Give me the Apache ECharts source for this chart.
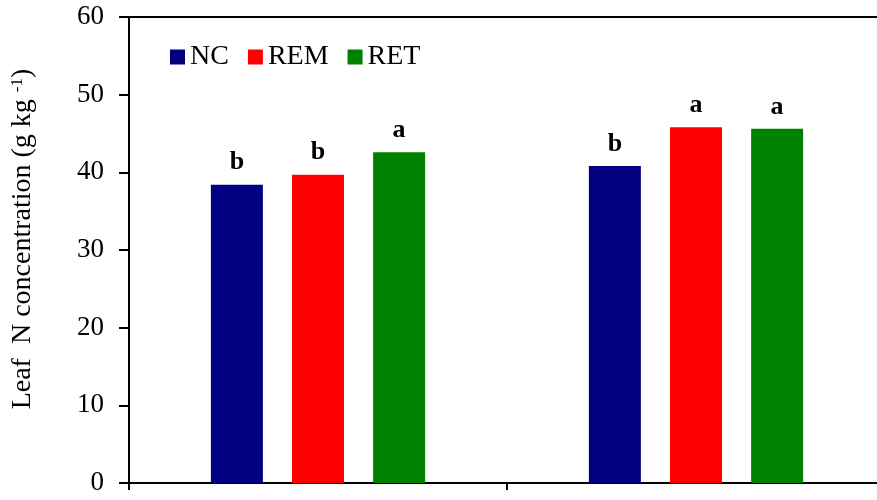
<!DOCTYPE html>
<html>
<head>
<meta charset="utf-8">
<script src="https://cdn.jsdelivr.net/npm/echarts@6/dist/echarts.min.js"></script>
<style>
html,body{margin:0;padding:0;background:#fff;overflow:hidden;width:877px;height:500px;}
#chart{width:895px;height:500px;}
</style>
</head>
<body>
<div id="chart"></div>
<script>
var categories = ['Group 1', 'Group 2'];
var seriesNames = ['NC', 'REM', 'RET'];
var ncValues = [38.4, 40.8];
var remValues = [39.7, 45.8];
var retValues = [42.6, 45.6];
var ncLetters = ['b', 'b'];
var remLetters = ['b', 'a'];
var retLetters = ['a', 'a'];
var yTicks = [0, 10, 20, 30, 40, 50, 60];

var FONT = "'Liberation Serif', 'Times New Roman', serif";
var colors = ['#000080', '#FF0000', '#008000'];

function makeSeries(name, values, letters, color) {
  return {
    name: name,
    type: 'bar',
    data: values,
    barWidth: 52,
    barGap: '56%',
    itemStyle: { color: color },
    label: {
      show: true,
      position: 'top',
      distance: 9,
      fontFamily: FONT,
      fontWeight: 'bold',
      fontSize: 26,
      color: '#000',
      formatter: function (p) { return letters[p.dataIndex]; }
    }
  };
}

var chart = echarts.init(document.getElementById('chart'), null, { renderer: 'canvas' });
chart.setOption({
  animation: false,
  backgroundColor: '#fff',
  legend: {
    left: 165,
    top: 38,
    itemWidth: 15,
    itemHeight: 15,
    itemGap: 19,
    icon: 'rect',
    textStyle: { fontFamily: FONT, fontSize: 28, color: '#000' },
    data: seriesNames
  },
  grid: {
    left: 129,
    top: 17,
    width: 756,
    height: 466,
    show: true,
    borderColor: '#000',
    borderWidth: 2,
    backgroundColor: 'transparent'
  },
  xAxis: {
    type: 'category',
    data: categories,
    axisLine: { lineStyle: { color: '#000', width: 2 } },
    axisTick: { show: true, length: 7, lineStyle: { color: '#000', width: 2 } },
    axisLabel: { show: false }
  },
  yAxis: {
    type: 'value',
    min: yTicks[0],
    max: yTicks[yTicks.length - 1],
    interval: 10,
    name: '{n|Leaf  N concentration (g kg }{s|-1}{n|)}',
    nameLocation: 'middle',
    nameGap: 92,
    nameTextStyle: {
      padding: [0, 0, 0, 22],
      rich: {
        n: { fontFamily: FONT, fontSize: 28, color: '#000' },
        s: { fontFamily: FONT, fontSize: 17, color: '#000', padding: [0, 0, 11, 0] }
      }
    },
    axisLine: { show: true, lineStyle: { color: '#000', width: 2 } },
    axisTick: { show: true, length: 10, lineStyle: { color: '#000', width: 2 } },
    axisLabel: { margin: 25, fontFamily: FONT, fontSize: 27, color: '#000' },
    splitLine: { show: false }
  },
  series: [
    makeSeries(seriesNames[0], ncValues, ncLetters, colors[0]),
    makeSeries(seriesNames[1], remValues, remLetters, colors[1]),
    makeSeries(seriesNames[2], retValues, retLetters, colors[2])
  ]
});
</script>
</body>
</html>
